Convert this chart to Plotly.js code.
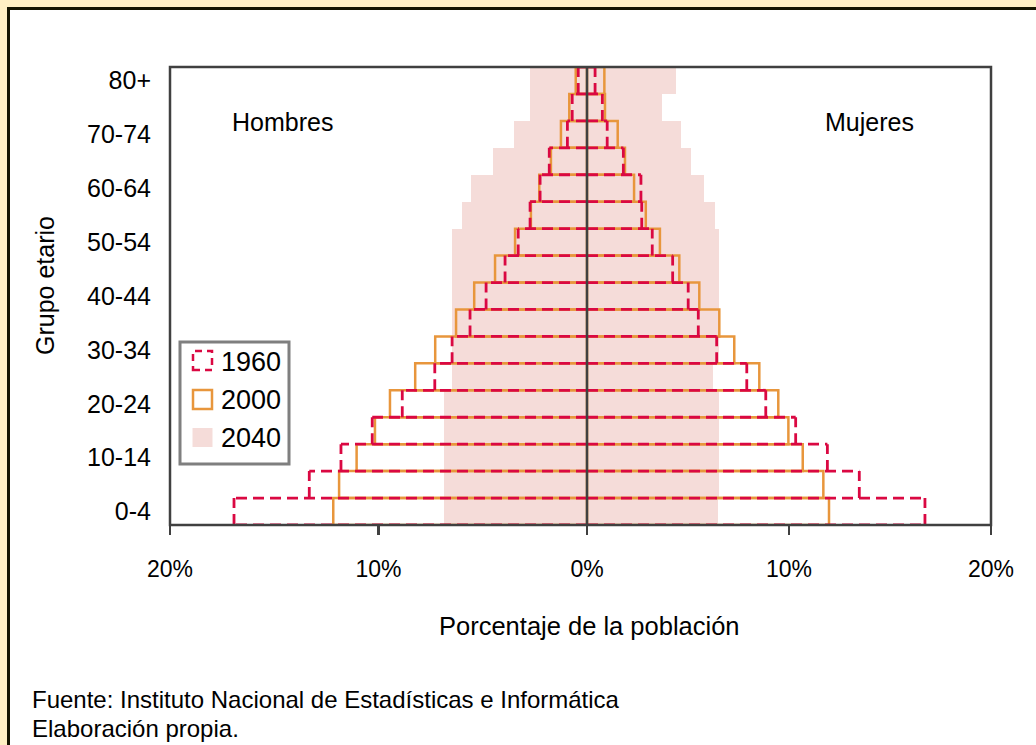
<!DOCTYPE html>
<html>
<head>
<meta charset="utf-8">
<script src="https://cdn.plot.ly/plotly-3.0.1.min.js"></script>
<style>
  html, body { margin: 0; padding: 0; width: 1036px; height: 745px; overflow: hidden; background: #FFF0C4; }
  #frame { position: absolute; left: 7px; top: 7px; right: 0; bottom: 0; background: #ffffff; border-top: 3px solid #141400; border-left: 3px solid #141400; }
  #chart { position: absolute; left: 0; top: 0; width: 1036px; height: 745px; }
</style>
</head>
<body>
<div id="frame"></div>
<div id="chart"></div>
<script>
// Age groups (index 0 = youngest)
const ageGroups = ['0-4','5-9','10-14','15-19','20-24','25-29','30-34','35-39','40-44','45-49','50-54','55-59','60-64','65-69','70-74','75-79','80+'];
// Percent of population
const men1960   = [16.93, 13.32, 11.80, 10.30, 8.86, 7.30, 6.47, 5.61, 4.84, 3.93, 3.30, 2.73, 2.25, 1.81, 0.94, 0.71, 0.42];
const women1960 = [16.73, 13.48, 11.90, 10.33, 8.85, 7.91, 6.42, 5.51, 5.01, 4.24, 3.23, 2.71, 2.67, 1.80, 1.00, 0.76, 0.40];
const men2000   = [12.17, 11.89, 11.05, 10.17, 9.45, 8.24, 7.28, 6.28, 5.41, 4.41, 3.45, 2.69, 2.29, 1.73, 1.25, 0.85, 0.54];
const women2000 = [11.98, 11.70, 10.68, 9.97, 9.47, 8.53, 7.29, 6.55, 5.56, 4.57, 3.61, 2.91, 2.33, 1.88, 1.52, 0.89, 0.86];
const men2040   = [6.86, 6.86, 6.86, 6.86, 6.86, 6.47, 6.47, 6.47, 6.47, 6.47, 6.47, 6.01, 5.58, 4.49, 3.50, 2.73, 2.73];
const women2040 = [6.47, 6.52, 6.52, 6.52, 6.52, 6.22, 6.55, 6.55, 6.55, 6.55, 6.55, 6.34, 5.81, 5.13, 4.65, 3.71, 4.39];
const yearLabels = ['1960', '2000', '2040'];
const xTickValsLeft = [-20, -10, 0];
const xTickTextLeft = ['20%', '10%', '0%'];
const xTickValsRight = [10, 20];
const xTickTextRight = ['10%', '20%'];

const RED = '#DA0842';
const ORANGE = '#E8963C';
const PINK = '#F5DCD9';
const AXIS = '#404040';
const FONT = '"Liberation Sans", Arial, sans-serif';

const idx = ageGroups.map((_, i) => i);
const neg = a => a.map(v => -v);

// Dashed outline of a set of bars: each shared edge drawn once
function outline(vals, sign) {
  const xs = [], ys = [];
  const n = vals.length;
  for (let k = 0; k <= n; k++) {
    const a = k > 0 ? vals[k - 1] : 0;
    const b = k < n ? vals[k] : 0;
    const m = Math.max(a, b);
    xs.push(0, sign * m, null);
    ys.push(k - 0.5, k - 0.5, null);
  }
  for (let i = 0; i < n; i++) {
    xs.push(sign * vals[i], sign * vals[i], null);
    ys.push(i - 0.5, i + 0.5, null);
  }
  return { x: xs, y: ys };
}

const oL = outline(men1960, -1);
const oR = outline(women1960, 1);

const traces = [
  { type: 'bar', orientation: 'h', x: neg(men2040), y: idx, width: 1, xaxis: 'x', yaxis: 'y',
    marker: { color: PINK, line: { width: 0 } }, name: yearLabels[2], showlegend: false, hoverinfo: 'skip' },
  { type: 'bar', orientation: 'h', x: women2040, y: idx, width: 1, xaxis: 'x2', yaxis: 'y',
    marker: { color: PINK, line: { width: 0 } }, name: yearLabels[2], showlegend: false, hoverinfo: 'skip' },
  { type: 'bar', orientation: 'h', x: neg(men2000), y: idx, width: 1, xaxis: 'x', yaxis: 'y',
    marker: { color: 'rgba(0,0,0,0)', line: { color: ORANGE, width: 2.5 } }, name: yearLabels[1], showlegend: false, hoverinfo: 'skip' },
  { type: 'bar', orientation: 'h', x: women2000, y: idx, width: 1, xaxis: 'x2', yaxis: 'y',
    marker: { color: 'rgba(0,0,0,0)', line: { color: ORANGE, width: 2.5 } }, name: yearLabels[1], showlegend: false, hoverinfo: 'skip' },
  { type: 'scatter', mode: 'lines', x: oL.x, y: oL.y, xaxis: 'x', yaxis: 'y', connectgaps: false,
    line: { color: RED, width: 2.8, dash: '11px,6px' }, name: yearLabels[0], showlegend: false, hoverinfo: 'skip' },
  { type: 'scatter', mode: 'lines', x: oR.x, y: oR.y, xaxis: 'x2', yaxis: 'y', connectgaps: false,
    line: { color: RED, width: 2.8, dash: '11px,6px' }, name: yearLabels[0], showlegend: false, hoverinfo: 'skip' }
];

// pixel -> paper helpers for decorations
const L = 170, R = 991, T = 67, B = 525;
const PX = p => (p - L) / (R - L);
const PY = p => (B - p) / (B - T);
const SPLIT = PX(587);

const tickFont = { family: FONT, size: 23, color: '#000' };

const layout = {
  width: 1036, height: 745,
  margin: { l: L, r: 1036 - R, t: T, b: 745 - B, pad: 0 },
  paper_bgcolor: 'rgba(0,0,0,0)',
  plot_bgcolor: '#ffffff',
  barmode: 'overlay',
  bargap: 0,
  showlegend: false,
  font: { family: FONT, color: '#000' },
  xaxis: {
    domain: [0, SPLIT], range: [-20, 0], anchor: 'y',
    tickmode: 'array', tickvals: xTickValsLeft, ticktext: xTickTextLeft,
    ticks: 'outside', ticklen: 9, tickwidth: 2.5, tickcolor: AXIS,
    showgrid: false, zeroline: false, showline: false,
    tickfont: tickFont, ticklabelstandoff: 14, fixedrange: true
  },
  xaxis2: {
    domain: [SPLIT, 1], range: [0, 20], anchor: 'y',
    tickmode: 'array', tickvals: xTickValsRight, ticktext: xTickTextRight,
    ticks: 'outside', ticklen: 9, tickwidth: 2.5, tickcolor: AXIS,
    showgrid: false, zeroline: false, showline: false,
    tickfont: tickFont, ticklabelstandoff: 14, fixedrange: true
  },
  yaxis: {
    range: [-0.5, ageGroups.length - 0.5],
    tickmode: 'array',
    tickvals: idx.filter(i => i % 2 === 0),
    ticktext: idx.filter(i => i % 2 === 0).map(i => ageGroups[i]),
    ticks: '', showgrid: false, zeroline: false, showline: false,
    tickfont: { family: FONT, size: 25, color: '#000' }, ticklabelstandoff: 18, fixedrange: true
  },
  shapes: [
    { type: 'rect', xref: 'paper', yref: 'paper', x0: 0, x1: 1, y0: 0, y1: 1,
      line: { color: AXIS, width: 2.5 }, fillcolor: 'rgba(0,0,0,0)', layer: 'above' },
    { type: 'line', xref: 'paper', yref: 'paper', x0: SPLIT, x1: SPLIT, y0: 0, y1: 1,
      line: { color: AXIS, width: 2.5 }, layer: 'above' },
    { type: 'rect', xref: 'paper', yref: 'paper', x0: PX(180), x1: PX(289), y0: PY(464), y1: PY(342),
      line: { color: '#7f7f7f', width: 3 }, fillcolor: '#ffffff', layer: 'above' },
    { type: 'rect', xref: 'paper', yref: 'paper', x0: PX(193), x1: PX(212), y0: PY(370), y1: PY(351),
      line: { color: RED, width: 2.5, dash: '7px,5px' }, fillcolor: '#ffffff', layer: 'above' },
    { type: 'rect', xref: 'paper', yref: 'paper', x0: PX(193), x1: PX(212), y0: PY(409), y1: PY(390),
      line: { color: ORANGE, width: 2.5 }, fillcolor: '#ffffff', layer: 'above' },
    { type: 'rect', xref: 'paper', yref: 'paper', x0: PX(192.5), x1: PX(212.5), y0: PY(447), y1: PY(428),
      line: { width: 0 }, fillcolor: PINK, layer: 'above' }
  ],
  annotations: [
    { text: yearLabels[0], xref: 'paper', yref: 'paper', x: PX(219), y: PY(362), xanchor: 'left', yanchor: 'middle',
      showarrow: false, font: { family: FONT, size: 27, color: '#000' } },
    { text: yearLabels[1], xref: 'paper', yref: 'paper', x: PX(219), y: PY(400), xanchor: 'left', yanchor: 'middle',
      showarrow: false, font: { family: FONT, size: 27, color: '#000' } },
    { text: yearLabels[2], xref: 'paper', yref: 'paper', x: PX(219), y: PY(438), xanchor: 'left', yanchor: 'middle',
      showarrow: false, font: { family: FONT, size: 27, color: '#000' } },
    { text: 'Hombres', xref: 'paper', yref: 'paper', x: PX(282), y: PY(122), xanchor: 'center', yanchor: 'middle',
      showarrow: false, font: { family: FONT, size: 25, color: '#000' } },
    { text: 'Mujeres', xref: 'paper', yref: 'paper', x: PX(869.5), y: PY(122), xanchor: 'center', yanchor: 'middle',
      showarrow: false, font: { family: FONT, size: 25, color: '#000' } },
    { text: 'Grupo etario', xref: 'paper', yref: 'paper', x: PX(45), y: PY(285), xanchor: 'center', yanchor: 'middle',
      textangle: -90, showarrow: false, font: { family: FONT, size: 25, color: '#000' } },
    { text: 'Porcentaje de la población', xref: 'paper', yref: 'paper', x: PX(589), y: PY(626), xanchor: 'center', yanchor: 'middle',
      showarrow: false, font: { family: FONT, size: 25.5, color: '#000' } },
    { text: 'Fuente: Instituto Nacional de Estadísticas e Informática', xref: 'paper', yref: 'paper', x: PX(30), y: PY(699),
      xanchor: 'left', yanchor: 'middle', showarrow: false, font: { family: FONT, size: 24, color: '#000' } },
    { text: 'Elaboración propia.', xref: 'paper', yref: 'paper', x: PX(30), y: PY(728),
      xanchor: 'left', yanchor: 'middle', showarrow: false, font: { family: FONT, size: 24, color: '#000' } }
  ]
};

Plotly.newPlot('chart', traces, layout, { displayModeBar: false, staticPlot: true });
</script>
</body>
</html>
